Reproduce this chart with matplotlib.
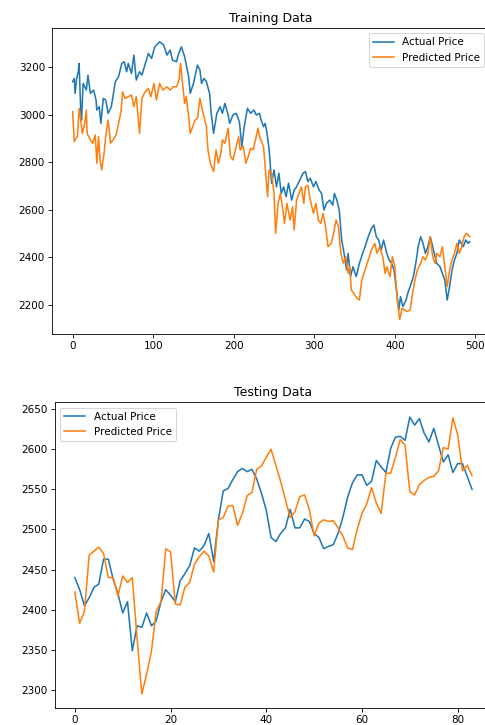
import numpy as np
import matplotlib
matplotlib.use('Agg')
import matplotlib.pyplot as plt

# -----------------------------------------------------------------------------
# training data (day index -> price)

train_days_actual = [0, 2, 3, 5, 7, 8, 10, 11, 13, 17, 19, 22, 26, 29, 30, 33, 35, 38, 41, 44,
                     48, 53, 57, 61, 64, 67, 69, 73, 76, 79, 83, 86, 91, 94, 98, 102, 108, 113,
                     117, 121, 124, 129, 131, 135, 139, 144, 146, 150, 155, 158, 160, 163, 166,
                     170, 172, 175, 179, 183, 186, 189, 193, 195, 199, 203, 207, 210, 213, 217,
                     221, 225, 228, 232, 234, 237, 239, 241, 244, 247, 250, 253, 256, 259, 262,
                     265, 268, 272, 275, 278, 282, 286, 289, 292, 295, 299, 302, 306, 309, 312,
                     315, 319, 323, 325, 328, 331, 334, 337, 340, 342, 345, 348, 352, 356, 360,
                     363, 367, 371, 374, 377, 380, 383, 386, 390, 393, 396, 399, 402, 405, 407,
                     410, 414, 416, 419, 423, 426, 429, 432, 435, 438, 441, 444, 447, 450, 452,
                     456, 459, 462, 465, 468, 471, 474, 477, 480, 485, 488, 491, 493]
train_actual = [3138, 3152, 3089, 3152, 3180, 3215, 3019, 2977, 3131, 3103, 3165, 3089, 3103,
                3061, 3019, 3033, 2963, 3068, 3061, 3005, 3033, 3138, 3159, 3215, 3222, 3180,
                3215, 3173, 3250, 3145, 3180, 3166, 3222, 3257, 3236, 3285, 3306, 3292, 3250,
                3271, 3229, 3222, 3250, 3285, 3243, 3159, 3089, 3131, 3208, 3187, 3131, 3152,
                3138, 3089, 3005, 2921, 3005, 3033, 3005, 3047, 2998, 2963, 2998, 3005, 2970,
                2865, 2949, 3026, 3005, 3019, 2998, 3005, 2977, 2949, 2963, 2928, 2851, 2711,
                2767, 2696, 2753, 2668, 2696, 2654, 2711, 2640, 2682, 2696, 2725, 2753, 2760,
                2718, 2732, 2696, 2718, 2682, 2668, 2598, 2626, 2640, 2619, 2668, 2640, 2598,
                2472, 2416, 2346, 2416, 2318, 2360, 2318, 2374, 2416, 2444, 2486, 2521, 2535,
                2486, 2472, 2430, 2472, 2416, 2388, 2374, 2346, 2262, 2178, 2234, 2192, 2220,
                2248, 2276, 2318, 2374, 2444, 2486, 2458, 2416, 2444, 2486, 2444, 2402, 2374,
                2360, 2332, 2304, 2220, 2276, 2346, 2388, 2416, 2472, 2444, 2472, 2458, 2465]

train_days_pred = [0, 2, 4, 6, 8, 10, 12, 15, 17, 18, 22, 25, 28, 30, 32, 34, 36, 39, 41, 44,
                   47, 50, 54, 57, 60, 62, 65, 69, 73, 76, 79, 83, 86, 90, 94, 97, 101, 104,
                   108, 112, 117, 121, 125, 129, 132, 134, 136, 139, 141, 144, 146, 149, 152,
                   155, 158, 161, 164, 166, 168, 171, 175, 178, 181, 184, 186, 189, 193, 196,
                   199, 203, 206, 208, 212, 215, 218, 221, 224, 227, 230, 232, 237, 239, 242,
                   244, 247, 250, 252, 255, 258, 261, 263, 266, 270, 273, 275, 278, 281, 284,
                   287, 289, 292, 295, 299, 302, 305, 308, 311, 314, 317, 321, 324, 327, 330,
                   333, 336, 339, 342, 344, 346, 349, 353, 356, 359, 363, 367, 371, 375, 378,
                   381, 385, 388, 390, 394, 397, 400, 403, 406, 409, 412, 415, 419, 422, 425,
                   428, 432, 435, 438, 441, 444, 447, 450, 452, 456, 459, 462, 465, 468, 471,
                   474, 477, 480, 483, 486, 489, 491, 493]
train_pred = [3012, 2886, 2900, 2907, 3026, 2977, 2921, 2963, 3019, 2921, 2893, 2879, 2914,
              2795, 2907, 2809, 2767, 2837, 2907, 2977, 2879, 2893, 2914, 2963, 3012, 3096,
              3068, 3075, 3082, 3033, 3075, 2921, 3068, 3096, 3110, 3075, 3131, 3061, 3131,
              3103, 3117, 3103, 3117, 3117, 3145, 3215, 3145, 3047, 3075, 2991, 2921, 2949,
              2977, 2984, 3068, 3019, 2977, 2949, 2851, 2795, 2760, 2851, 2795, 2837, 2893,
              2879, 2942, 2823, 2809, 2865, 2907, 2851, 2865, 2795, 2823, 2858, 2851, 2893,
              2942, 2907, 2865, 2781, 2654, 2767, 2753, 2668, 2500, 2626, 2668, 2598, 2542,
              2626, 2556, 2612, 2514, 2640, 2668, 2696, 2626, 2696, 2703, 2640, 2584, 2626,
              2556, 2542, 2584, 2528, 2444, 2458, 2500, 2556, 2528, 2416, 2374, 2402, 2332,
              2360, 2262, 2248, 2227, 2220, 2304, 2346, 2388, 2430, 2458, 2416, 2444, 2402,
              2332, 2360, 2318, 2402, 2360, 2220, 2138, 2185, 2178, 2171, 2178, 2248, 2304,
              2346, 2374, 2402, 2388, 2416, 2486, 2402, 2374, 2416, 2402, 2444, 2360, 2276,
              2346, 2388, 2416, 2458, 2416, 2444, 2486, 2500, 2493, 2486]

# testing data

test_actual = [2440, 2425, 2405, 2415, 2428, 2432, 2463, 2463, 2438, 2420,
               2396, 2410, 2349, 2380, 2378, 2396, 2380, 2386, 2410, 2425,
               2418, 2410, 2436, 2445, 2455, 2477, 2473, 2480, 2495, 2460,
               2512, 2548, 2551, 2562, 2572, 2576, 2572, 2575, 2563, 2545,
               2524, 2490, 2485, 2495, 2502, 2525, 2502, 2502, 2513, 2510,
               2495, 2490, 2476, 2479, 2481, 2495, 2515, 2540, 2558, 2568,
               2568, 2555, 2560, 2586, 2578, 2571, 2601, 2615, 2616, 2611,
               2640, 2630, 2638, 2620, 2609, 2626, 2605, 2584, 2593, 2571,
               2582, 2582, 2566, 2550]
test_pred = [2422, 2383, 2398, 2468, 2473, 2478, 2470, 2440, 2440, 2417,
             2442, 2434, 2440, 2365, 2295, 2320, 2348, 2398, 2410, 2476,
             2472, 2407, 2406, 2428, 2434, 2457, 2466, 2473, 2467, 2447,
             2512, 2515, 2529, 2530, 2505, 2520, 2542, 2546, 2575, 2579,
             2590, 2600, 2580, 2560, 2537, 2515, 2522, 2541, 2543, 2525,
             2492, 2508, 2512, 2510, 2511, 2502, 2492, 2477, 2475, 2500,
             2520, 2532, 2552, 2533, 2520, 2570, 2570, 2590, 2612, 2605,
             2547, 2543, 2556, 2561, 2565, 2566, 2573, 2602, 2600, 2639,
             2618, 2573, 2580, 2567]

# -----------------------------------------------------------------------------

fig = plt.figure(figsize=(485 / 75, 725 / 75), dpi=75)

# the reference is cropped on the right, so the axes run past the figure edge
ax1 = fig.add_axes([0.1078, 0.5397, 0.9016, 0.4217])
ax1.plot(train_days_actual, train_actual, label='Actual Price')
ax1.plot(train_days_pred, train_pred, label='Predicted Price')
ax1.set_title('Training Data')
ax1.set_xlim(-25.3, 517.6)
ax1.set_ylim(2078, 3364)
ax1.set_xticks([0, 100, 200, 300, 400, 500])
ax1.legend(loc='upper right')

ax2 = fig.add_axes([0.1134, 0.0239, 0.9008, 0.4212])
ax2.plot(np.arange(len(test_actual)), test_actual, label='Actual Price')
ax2.plot(np.arange(len(test_pred)), test_pred, label='Predicted Price')
ax2.set_title('Testing Data')
ax2.set_xlim(-4.15, 87.15)
ax2.set_ylim(2278, 2658.4)
ax2.legend(loc='upper left')

fig.savefig('out.png', dpi=75)
